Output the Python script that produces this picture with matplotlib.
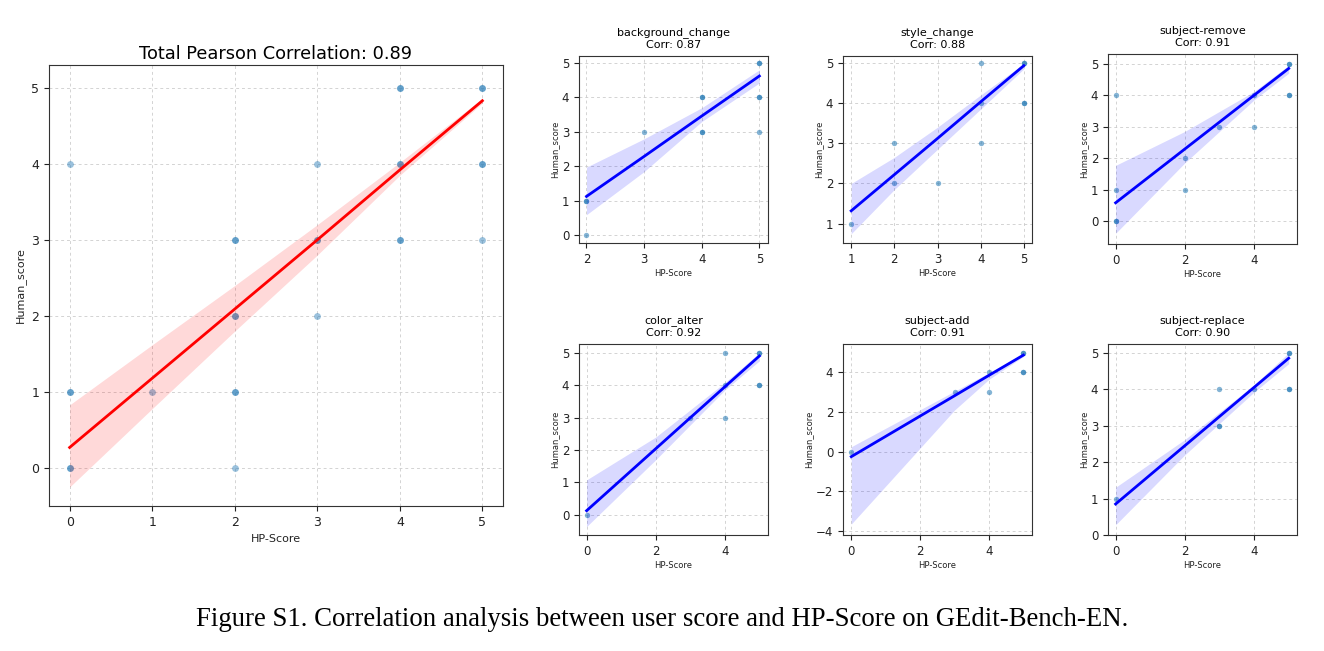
import numpy as np
import matplotlib
matplotlib.use("Agg")
import matplotlib.pyplot as plt

# %% data

# total panel (repeated points = overlapping, darker dots)
tot_x = [0, 0, 0, 0, 0, 1, 2, 2, 2, 2, 2, 2, 2, 3, 3, 3, 3, 4, 4, 4, 4, 4, 4, 5, 5, 5, 5, 5]
tot_y = [4, 1, 1, 0, 0, 1, 3, 3, 2, 2, 1, 1, 0, 4, 3, 3, 2, 5, 5, 4, 4, 3, 3, 5, 5, 4, 4, 3]
tot_bx = [0, 1, 2, 3, 4, 5]
tot_fit = [0.27, 1.18, 2.09, 3.0, 3.92, 4.83]
tot_lo = [-0.25, 0.78, 1.8, 2.8, 3.85, 4.8]
tot_hi = [0.83, 1.62, 2.4, 3.2, 4.02, 4.86]
tot_corr = 0.89

names = ["background_change", "style_change", "subject-remove",
         "color_alter", "subject-add", "subject-replace"]
corrs = [0.87, 0.88, 0.91, 0.92, 0.91, 0.90]

bg_x = [2, 2, 2, 3, 4, 4, 4, 4, 5, 5, 5, 5, 5]
bg_y = [1, 1, 0, 3, 4, 4, 3, 3, 5, 5, 4, 4, 3]
bg_bx = [2, 3, 4, 5]
bg_fit = [1.13, 2.29, 3.46, 4.62]
bg_lo = [0.6, 1.85, 3.3, 4.42]
bg_hi = [1.98, 2.8, 3.7, 4.8]

st_x = [1, 2, 2, 3, 4, 4, 4, 5, 5, 5, 5]
st_y = [1, 3, 2, 2, 5, 4, 3, 5, 5, 4, 4]
st_bx = [1, 2, 3, 4, 5]
st_fit = [1.32, 2.22, 3.12, 4.03, 4.93]
st_lo = [0.75, 1.85, 2.85, 3.85, 4.85]
st_hi = [2.0, 2.65, 3.4, 4.2, 4.98]

sr_x = [0, 0, 0, 0, 2, 2, 3, 4, 4, 5, 5, 5, 5]
sr_y = [4, 1, 0, 0, 2, 1, 3, 4, 3, 5, 5, 4, 4]
sr_bx = [0, 2, 4, 5]
sr_fit = [0.58, 2.29, 4.0, 4.85]
sr_lo = [-0.39, 1.85, 3.85, 4.7]
sr_hi = [1.77, 2.85, 4.12, 4.95]

ca_x = [0, 3, 4, 4, 4, 5, 5, 5, 5]
ca_y = [0, 3, 5, 4, 3, 5, 5, 4, 4]
ca_bx = [0, 2, 4, 5]
ca_fit = [0.13, 2.04, 3.95, 4.9]
ca_lo = [-0.36, 1.7, 3.85, 4.75]
ca_hi = [1.08, 2.4, 4.08, 5.0]

sa_x = [0, 3, 4, 4, 5, 5, 5, 5]
sa_y = [0, 3, 4, 3, 5, 5, 4, 4]
sa_bx = [0, 3, 4, 5]
sa_fit = [-0.25, 2.82, 3.85, 4.87]
sa_lo = [-3.65, 2.1, 3.65, 4.8]
sa_hi = [0.25, 3.05, 3.98, 4.95]

rp_x = [0, 3, 3, 3, 4, 5, 5, 5, 5]
rp_y = [1, 4, 3, 3, 4, 5, 5, 4, 4]
rp_bx = [0, 2, 4, 5]
rp_fit = [0.85, 2.45, 4.05, 4.85]
rp_lo = [0.28, 2.2, 3.92, 4.7]
rp_hi = [1.31, 2.62, 4.12, 5.0]

# axis limits per small panel
xlims = [(1.87, 5.15), (0.81, 5.19), (-0.22, 5.24), (-0.22, 5.25), (-0.24, 5.25), (-0.22, 5.24)]
ylims = [(-0.22, 5.2), (0.52, 5.17), (-0.73, 5.31), (-0.62, 5.27), (-4.2, 5.43), (0.0, 5.24)]

panels = [(bg_x, bg_y, bg_bx, bg_fit, bg_lo, bg_hi),
          (st_x, st_y, st_bx, st_fit, st_lo, st_hi),
          (sr_x, sr_y, sr_bx, sr_fit, sr_lo, sr_hi),
          (ca_x, ca_y, ca_bx, ca_fit, ca_lo, ca_hi),
          (sa_x, sa_y, sa_bx, sa_fit, sa_lo, sa_hi),
          (rp_x, rp_y, rp_bx, rp_fit, rp_lo, rp_hi)]

# %% figure

W, H = 1324, 651
fig = plt.figure(figsize=(W / 100, H / 100), dpi=100)


def px_axes(l, t, r, b):
    return fig.add_axes([l / W, 1 - b / H, (r - l) / W, (b - t) / H])


def style(ax, lab_fs, tick_fs):
    ax.grid(True, linestyle=(0, (3, 3)), color="#c8c8c8", alpha=0.8, linewidth=0.7)
    ax.set_axisbelow(True)
    for s in ax.spines.values():
        s.set_color("#333333")
    ax.tick_params(labelsize=tick_fs, colors="#222222", length=3.5, width=0.8)
    ax.set_xlabel("HP-Score", fontsize=lab_fs, color="#222222")
    ax.set_ylabel("Human_score", fontsize=lab_fs, color="#222222")


# big panel
ax = px_axes(49, 65, 503, 506)
ax.scatter(tot_x, tot_y, s=24, color="#1f77b4", alpha=0.45, linewidths=0)
ax.fill_between(tot_bx, tot_lo, tot_hi, color="red", alpha=0.15, linewidth=0)
ax.plot(tot_bx, tot_fit, color="red", linewidth=2)
ax.set_xlim(-0.25, 5.25)
ax.set_ylim(-0.5, 5.3)
ax.set_xticks([0, 1, 2, 3, 4, 5])
ax.set_yticks([0, 1, 2, 3, 4, 5])
ax.set_title(f"Total Pearson Correlation: {tot_corr:.2f}", fontsize=12.8, pad=4)
style(ax, 8, 9)

# small panels
boxes = [(579, 56, 768, 243), (843, 56, 1032, 243), (1108, 54, 1297, 244),
         (579, 344, 768, 535), (843, 344, 1032, 535), (1108, 344, 1297, 535)]

for i, (name, c) in enumerate(zip(names, corrs)):
    x, y, bx, fit, lo, hi = panels[i]
    ax = px_axes(*boxes[i])
    ax.scatter(x, y, s=15, color="#1f77b4", alpha=0.55, linewidths=0)
    ax.fill_between(bx, lo, hi, color="blue", alpha=0.15, linewidth=0)
    ax.plot(bx, fit, color="blue", linewidth=2)
    ax.set_xlim(*xlims[i])
    ax.set_ylim(*ylims[i])
    ax.set_title(f"{name}\nCorr: {c:.2f}", fontsize=8, pad=6, linespacing=1.25)
    style(ax, 6, 8.5)
    ax.xaxis.labelpad = 2
    ax.yaxis.labelpad = 2

fig.text(0.5, 1 - 620 / H, "Figure S1. Correlation analysis between user score and HP-Score on GEdit-Bench-EN.",
         ha="center", va="center", fontsize=19.3, family="Liberation Serif")

fig.savefig("out.png", dpi=100)
